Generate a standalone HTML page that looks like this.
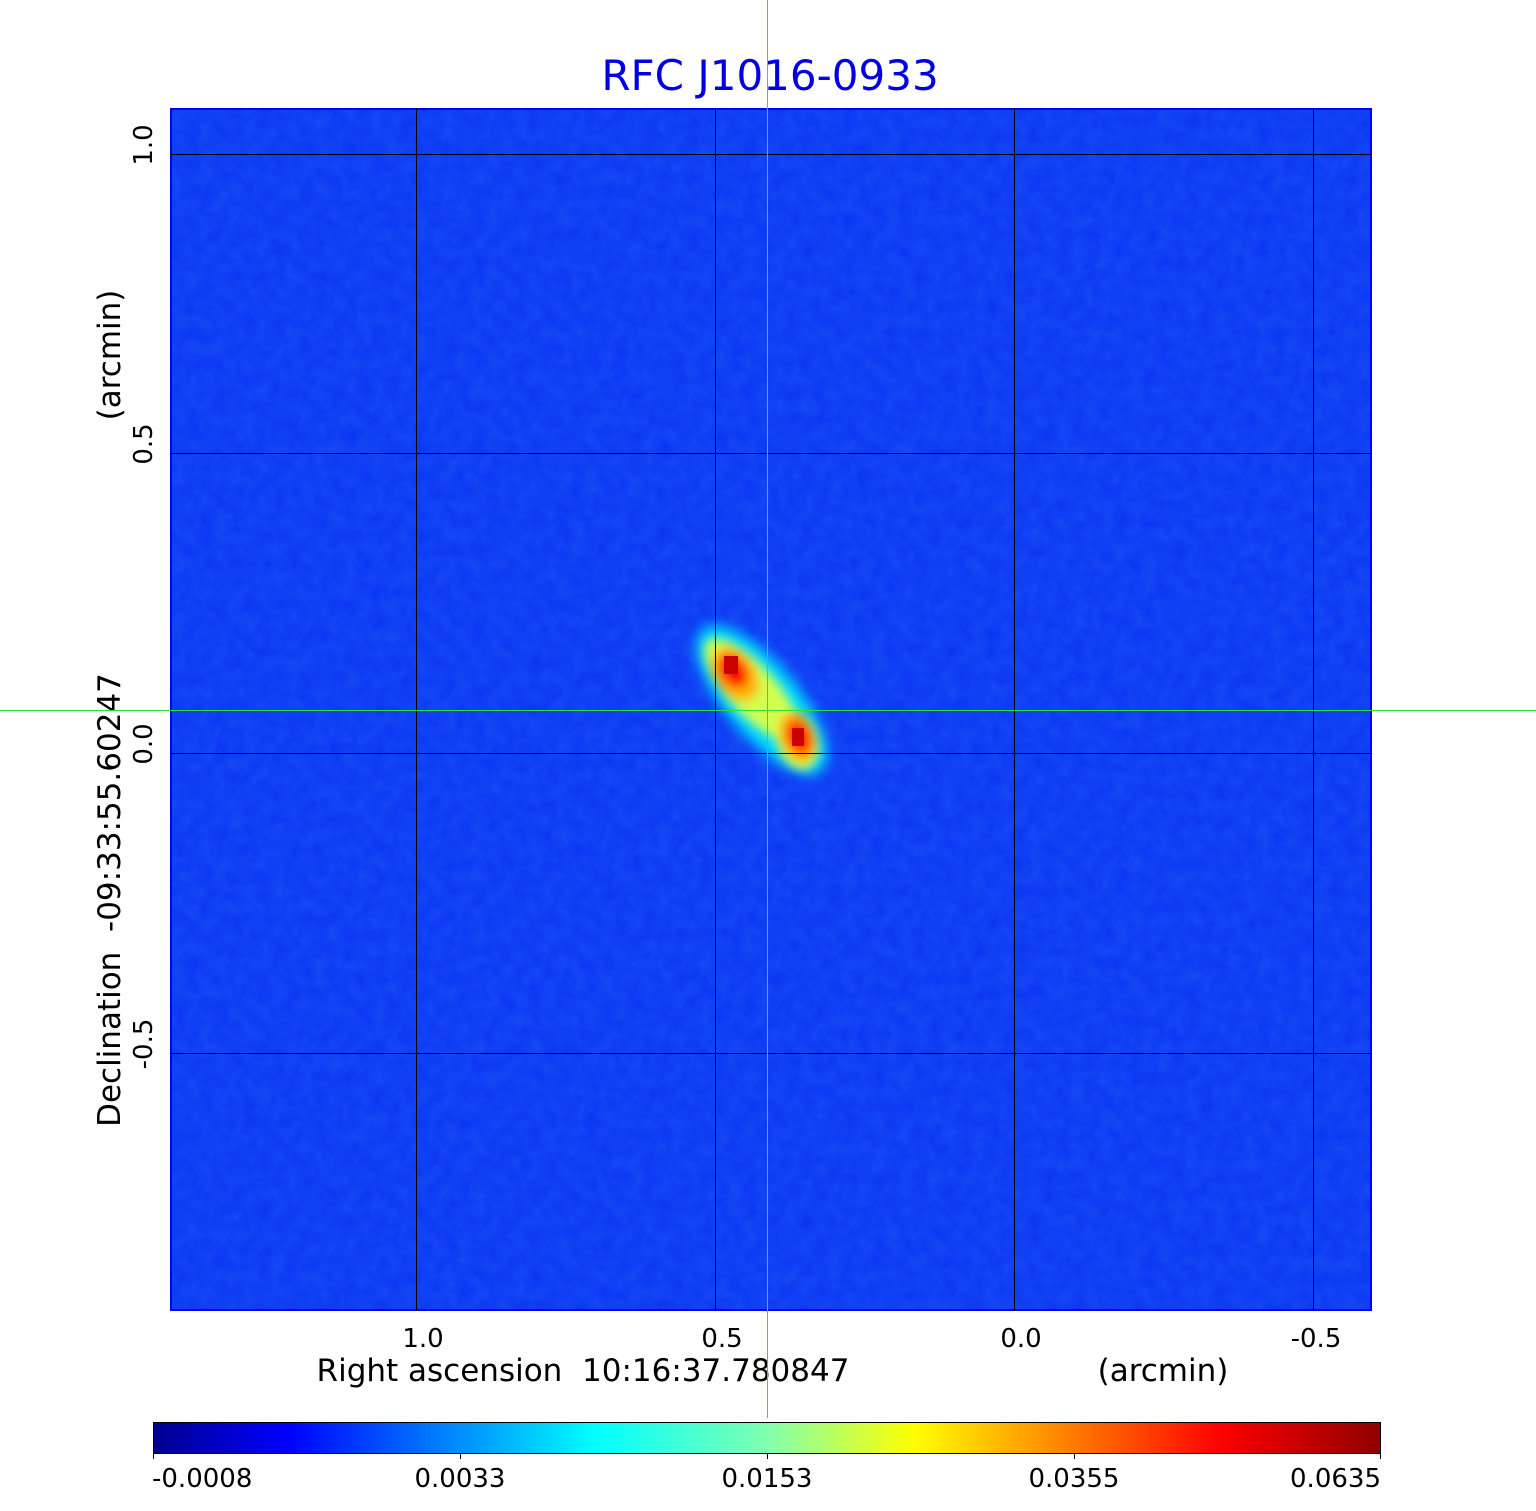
<!DOCTYPE html>
<html><head><meta charset="utf-8"><style>
html,body{margin:0;padding:0;background:#fff;}
svg{display:block;}
text{font-family:"DejaVu Sans","Liberation Sans",sans-serif;white-space:pre;}
</style></head><body>
<svg width="1536" height="1511" viewBox="0 0 1536 1511" xmlns="http://www.w3.org/2000/svg" xml:space="preserve">
<defs>
<linearGradient id="jet" x1="0" x2="1" y1="0" y2="0">
<stop offset="0" stop-color="#00008f"/>
<stop offset="0.11" stop-color="#0000ff"/>
<stop offset="0.36" stop-color="#00ffff"/>
<stop offset="0.5" stop-color="#80ffb0"/>
<stop offset="0.62" stop-color="#ffff00"/>
<stop offset="0.87" stop-color="#ff0000"/>
<stop offset="1" stop-color="#8f0000"/>
</linearGradient>
<filter id="b1" x="-50%" y="-50%" width="200%" height="200%"><feGaussianBlur stdDeviation="7"/></filter>
<filter id="b2" x="-50%" y="-50%" width="200%" height="200%"><feGaussianBlur stdDeviation="5"/></filter>
<filter id="n"><feTurbulence type="fractalNoise" baseFrequency="0.07" numOctaves="2" seed="3"/><feColorMatrix values="0 0 0 0 0.05  0 0 0 0 0.3  0 0 0 0 1  0 0 0 0.45 0"/></filter>
<clipPath id="cp"><rect x="170" y="108" width="1202" height="1203"/></clipPath>
</defs>
<text x="770" y="90" font-size="42" fill="#0000e0" text-anchor="middle">RFC J1016-0933</text>
<g clip-path="url(#cp)">
<rect x="170" y="108" width="1202" height="1203" fill="#0a34f2"/>
<rect x="170" y="108" width="1202" height="1203" filter="url(#n)" opacity="0.55"/>
<g filter="url(#b1)">
<ellipse cx="762" cy="700" rx="36" ry="92" transform="rotate(-40 762 700)" fill="#00e0ff"/>
</g>
<g filter="url(#b2)">
<ellipse cx="752" cy="690" rx="24" ry="66" transform="rotate(-42 752 690)" fill="#d0ff50"/>
<ellipse cx="797" cy="740" rx="20" ry="30" transform="rotate(-20 797 740)" fill="#e8ff40"/>
<ellipse cx="735" cy="674" rx="20" ry="30" transform="rotate(-35 735 674)" fill="#ffb000"/>
<ellipse cx="798" cy="737" rx="17" ry="26" transform="rotate(-20 798 737)" fill="#ffa000"/>
<ellipse cx="733" cy="671" rx="13" ry="18" transform="rotate(-35 733 671)" fill="#ff0000"/>
<ellipse cx="799" cy="737" rx="11" ry="16" transform="rotate(-20 799 737)" fill="#ff0000"/>
</g>
<rect x="724" y="656" width="14" height="18" fill="#c80000"/>
<rect x="792" y="728" width="12" height="18" fill="#c80000"/>
</g>
<rect x="171" y="109" width="1200" height="1201" fill="none" stroke="#0000ff" stroke-width="2"/>
<g stroke="#000" stroke-width="1">
<line x1="416.5" y1="108" x2="416.5" y2="1311"/>
<line x1="715.5" y1="108" x2="715.5" y2="1311"/>
<line x1="1014.5" y1="108" x2="1014.5" y2="1311"/>
<line x1="1313.5" y1="108" x2="1313.5" y2="1311"/>
<line x1="170" y1="154.5" x2="1372" y2="154.5"/>
<line x1="170" y1="453.5" x2="1372" y2="453.5"/>
<line x1="170" y1="753.5" x2="1372" y2="753.5"/>
<line x1="170" y1="1053.5" x2="1372" y2="1053.5"/>
</g>
<g font-size="26" fill="#000" text-anchor="middle">
<text x="423" y="1347">1.0</text>
<text x="722" y="1347">0.5</text>
<text x="1021" y="1347">0.0</text>
<text x="1316" y="1347">-0.5</text>
<text x="583" y="1381" font-size="31">Right ascension  10:16:37.780847</text>
<text x="1163" y="1381" font-size="31">(arcmin)</text>
<text transform="translate(152,145) rotate(-90)">1.0</text>
<text transform="translate(152,444) rotate(-90)">0.5</text>
<text transform="translate(152,744) rotate(-90)">0.0</text>
<text transform="translate(152,1044) rotate(-90)">-0.5</text>
<text transform="translate(120,900) rotate(-90)" font-size="31">Declination  -09:33:55.60247</text>
<text transform="translate(120,355) rotate(-90)" font-size="31">(arcmin)</text>
</g>
<rect x="153.5" y="1422.5" width="1227" height="31" fill="url(#jet)" stroke="#000" stroke-width="1"/>
<g stroke="#000"><line x1="153.5" y1="1453" x2="153.5" y2="1459"/><line x1="460.5" y1="1453" x2="460.5" y2="1459"/><line x1="767.5" y1="1453" x2="767.5" y2="1459"/><line x1="1074.5" y1="1453" x2="1074.5" y2="1459"/><line x1="1380.5" y1="1453" x2="1380.5" y2="1459"/></g>
<g font-size="26" fill="#000">
<text x="152" y="1487">-0.0008</text>
<text x="460" y="1487" text-anchor="middle">0.0033</text>
<text x="767" y="1487" text-anchor="middle">0.0153</text>
<text x="1074" y="1487" text-anchor="middle">0.0355</text>
<text x="1381" y="1487" text-anchor="end">0.0635</text>
</g>
<g stroke="#30e030" stroke-width="1">
<line x1="767.5" y1="0" x2="767.5" y2="1418"/>
<line x1="0" y1="710.5" x2="1536" y2="710.5"/>
</g>
</svg>
</body></html>
